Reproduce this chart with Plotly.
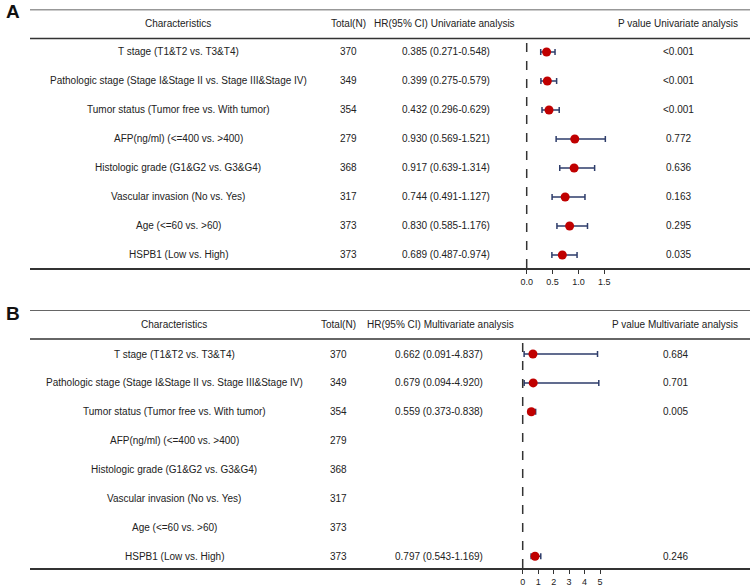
import plotly.graph_objects as go

# ---------------- data ----------------
characteristics = [
    "T stage (T1&T2 vs. T3&T4)",
    "Pathologic stage (Stage I&Stage II vs. Stage III&Stage IV)",
    "Tumor status (Tumor free vs. With tumor)",
    "AFP(ng/ml) (<=400 vs. >400)",
    "Histologic grade (G1&G2 vs. G3&G4)",
    "Vascular invasion (No vs. Yes)",
    "Age (<=60 vs. >60)",
    "HSPB1 (Low vs. High)",
]
total_n = [370, 349, 354, 279, 368, 317, 373, 373]

uni_hr = [0.385, 0.399, 0.432, 0.930, 0.917, 0.744, 0.830, 0.689]
uni_lo = [0.271, 0.275, 0.296, 0.569, 0.639, 0.491, 0.585, 0.487]
uni_hi = [0.548, 0.579, 0.629, 1.521, 1.314, 1.127, 1.176, 0.974]
uni_p = ["<0.001", "<0.001", "<0.001", "0.772", "0.636", "0.163", "0.295", "0.035"]

multi_hr = [0.662, 0.679, 0.559, None, None, None, None, 0.797]
multi_lo = [0.091, 0.094, 0.373, None, None, None, None, 0.543]
multi_hi = [4.837, 4.920, 0.838, None, None, None, None, 1.169]
multi_p = ["0.684", "0.701", "0.005", "", "", "", "", "0.246"]

uni_ticks = [0, 0.5, 1.0, 1.5]
uni_ticktext = ["0.0", "0.5", "1.0", "1.5"]
multi_ticks = [0, 1, 2, 3, 4, 5]
multi_ticktext = ["0", "1", "2", "3", "4", "5"]

# ---------------- layout geometry (pixels) ----------------
W, H = 752, 587
LINE_X0, LINE_X1 = 30, 750
TXT = "#222222"
FONT = "Liberation Sans, Arial, sans-serif"
RED = "#c00000"
NAVY = "#2e3d6b"

def px(x):
    return x / W

panels = [
    dict(label="A", label_y=11, top=9.5, header=24, hline=38.5, row0=52, step=29.0, bottom=268,
         zero_px=526.7, ppu=51.7, ticks=uni_ticks, ticktext=uni_ticktext,
         hr=uni_hr, lo=uni_lo, hi=uni_hi, p=uni_p,
         hr_head="HR(95% CI) Univariate analysis", p_head="P value Univariate analysis",
         char_x=178, tot_x=348, hr_head_x=372, hr_x=446, p_x=678, dash_top=43),
    dict(label="B", label_y=313, top=310, header=324, hline=339, row0=354, step=28.9, bottom=568,
         zero_px=522.7, ppu=15.47, ticks=multi_ticks, ticktext=multi_ticktext,
         hr=multi_hr, lo=multi_lo, hi=multi_hi, p=multi_p,
         hr_head="HR(95% CI) Multivariate analysis", p_head="P value Multivariate analysis",
         char_x=174, tot_x=338, hr_head_x=365, hr_x=439, p_x=675, dash_top=343),
]

fig = go.Figure()
annotations = []
shapes = []
layout_axes = {}

for k, pn in enumerate(panels):
    xa = "x" if k == 0 else "x2"
    ya = "y" if k == 0 else "y2"
    xname = "xaxis" if k == 0 else "xaxis2"
    yname = "yaxis" if k == 0 else "yaxis2"

    def rowval(pix, pn=pn):
        return (pix - pn["row0"]) / pn["step"]

    rows = list(range(len(characteristics)))
    # forest plot marks
    xs, ys, ep, em = [], [], [], []
    for i in rows:
        if pn["hr"][i] is None:
            continue
        xs.append(pn["hr"][i])
        ys.append(i)
        ep.append(pn["hi"][i] - pn["hr"][i])
        em.append(pn["hr"][i] - pn["lo"][i])
    fig.add_trace(go.Scatter(
        x=xs, y=ys, mode="markers", xaxis=xa, yaxis=ya,
        marker=dict(color=RED, size=9),
        error_x=dict(type="data", symmetric=False, array=ep, arrayminus=em,
                     color=NAVY, thickness=1.5, width=3),
        showlegend=False, hoverinfo="skip",
    ))

    x_left = (LINE_X0 - pn["zero_px"]) / pn["ppu"]
    x_right = (LINE_X1 - pn["zero_px"]) / pn["ppu"]
    layout_axes[xname] = dict(
        domain=[px(LINE_X0), px(LINE_X1)], range=[x_left, x_right], anchor=ya,
        showline=True, linewidth=1.6, linecolor="#333333", mirror=False,
        ticks="outside", ticklen=4, tickwidth=1.2, tickcolor="#333333",
        tickvals=pn["ticks"], ticktext=pn["ticktext"],
        tickfont=dict(size=9, color=TXT, family=FONT),
        showgrid=False, zeroline=False, fixedrange=True,
    )
    layout_axes[yname] = dict(
        domain=[1 - pn["bottom"] / H, 1 - pn["top"] / H],
        range=[rowval(pn["bottom"]), rowval(pn["top"])], anchor=xa,
        showline=False, showticklabels=False, showgrid=False, zeroline=False,
        ticks="", fixedrange=True,
    )

    # horizontal rules
    for yy in (pn["top"], pn["hline"]):
        shapes.append(dict(type="line", xref="paper", yref=ya,
                           x0=px(LINE_X0), x1=px(LINE_X1), y0=rowval(yy), y1=rowval(yy),
                           line=dict(color="#333333", width=1.6)))
    # dashed reference line
    shapes.append(dict(type="line", xref=xa, yref=ya, x0=0, x1=0,
                       y0=rowval(pn["dash_top"]), y1=rowval(pn["bottom"]),
                       line=dict(color="#333333", width=1.5, dash="dash")))

    fnt = dict(size=10, color=TXT, family=FONT)
    hy = rowval(pn["header"])
    annotations.append(dict(text="Characteristics", x=px(pn["char_x"]), y=hy, xref="paper", yref=ya,
                            showarrow=False, xanchor="center", yanchor="middle", font=fnt))
    annotations.append(dict(text="Total(N)", x=px(pn["tot_x"]), y=hy, xref="paper", yref=ya,
                            showarrow=False, xanchor="center", yanchor="middle", font=fnt))
    annotations.append(dict(text=pn["hr_head"], x=px(pn["hr_head_x"]), y=hy, xref="paper", yref=ya,
                            showarrow=False, xanchor="left", yanchor="middle", font=fnt))
    annotations.append(dict(text=pn["p_head"], x=px(pn["p_x"]), y=hy, xref="paper", yref=ya,
                            showarrow=False, xanchor="center", yanchor="middle", font=fnt))
    for i in rows:
        annotations.append(dict(text=characteristics[i], x=px(pn["char_x"]), y=i, xref="paper", yref=ya,
                                showarrow=False, xanchor="center", yanchor="middle", font=fnt))
        annotations.append(dict(text=str(total_n[i]), x=px(pn["tot_x"]), y=i, xref="paper", yref=ya,
                                showarrow=False, xanchor="center", yanchor="middle", font=fnt))
        if pn["hr"][i] is not None:
            s = f"{pn['hr'][i]:.3f} ({pn['lo'][i]:.3f}-{pn['hi'][i]:.3f})"
            annotations.append(dict(text=s, x=px(pn["hr_x"]), y=i, xref="paper", yref=ya,
                                    showarrow=False, xanchor="center", yanchor="middle", font=fnt))
        if pn["p"][i]:
            annotations.append(dict(text=pn["p"][i].replace("<", "&lt;"), x=px(pn["p_x"]), y=i,
                                    xref="paper", yref=ya, showarrow=False,
                                    xanchor="center", yanchor="middle", font=fnt))
    # panel label
    annotations.append(dict(text="<b>" + pn["label"] + "</b>", x=px(13), y=1 - pn["label_y"] / H,
                            xref="paper", yref="paper", showarrow=False,
                            xanchor="center", yanchor="middle",
                            font=dict(size=19, color="#111111", family=FONT)))

fig.update_layout(
    width=W, height=H, margin=dict(l=0, r=0, t=0, b=0),
    paper_bgcolor="white", plot_bgcolor="rgba(0,0,0,0)",
    annotations=annotations, shapes=shapes, showlegend=False,
    **layout_axes,
)

fig.write_html(
    "out.html",
    config={"displayModeBar": False},
    post_script="document.body.style.margin='0';document.body.style.overflow='hidden';",
)
